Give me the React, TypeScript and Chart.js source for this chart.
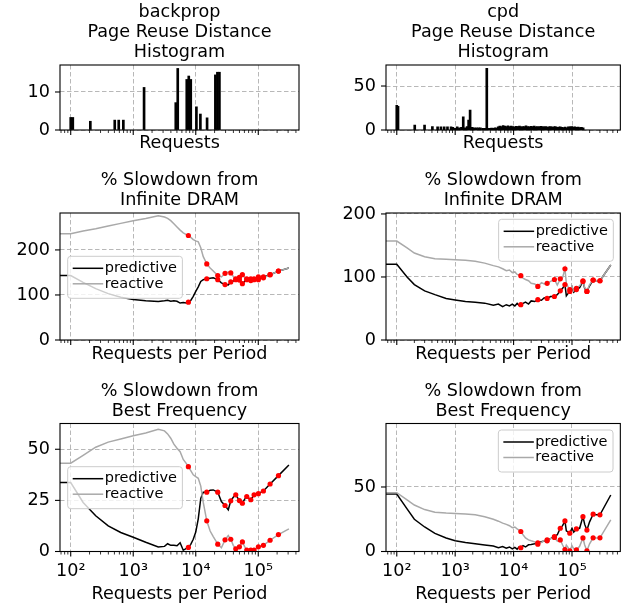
import React, { useEffect, useRef } from 'react';
import { Chart, registerables } from 'chart.js';
Chart.register(...registerables);

const FONT = '"DejaVu Sans", sans-serif';
const FS = 17.6;

// ---------------- data ----------------
const bpHistX = [100, 108, 206, 506, 586, 695, 1490, 4790, 5150, 7180, 7730, 8320, 10240, 11860, 15170, 20600, 22200, 23900];
const bpHistY = [3.3, 3.3, 2.3, 2.6, 2.6, 2.6, 11.2, 7.2, 16.2, 13.3, 14.2, 13.3, 6.1, 4.2, 3.2, 14.5, 15.2, 15.2];

const cpdHistX = [100, 105, 203, 299, 407, 500, 570, 648, 738, 850, 912, 1000, 1080, 1180, 1280, 1374, 1480, 1600, 1698, 1800, 1950, 2100, 2300, 2500, 2700, 2950, 3200, 3475,
  3700, 3950, 4200, 4500, 4800, 5100, 5450, 5800, 6200, 6600, 7050, 7500, 8000, 8550, 9100, 9700, 10400, 11100, 11800, 12600, 13400, 14300, 15300, 16300, 17400, 18500, 19800, 21100, 22500, 24000, 25600, 27300, 29100, 31000, 33100, 35300, 37600, 40100, 42800, 45600, 48600, 51900, 55300, 59000, 62900, 67100, 71500, 76300, 81300, 86700, 92500, 98600, 105000, 112000, 119500, 127500, 136000, 145000, 155000];
const cpdHistY = [28, 27, 5.7, 5.7, 3.8, 3.5, 3.5, 3.5, 3.5, 3.5, 3, 2, 3.5, 2.5, 3, 15.1, 2.5, 4, 11.4, 22.7, 3, 2.5, 2.5, 2.5, 2.5, 2, 2, 70.1,
  2, 1.8, 2.2, 2, 2.5, 2.2, 3.5, 4.5, 4, 5, 4.5, 4, 4.8, 3.8, 4.5, 4, 3.5, 4.2, 3.8, 4.5, 3.5, 4, 3.8, 4.6, 4, 3.5, 4.2, 3.8, 4.5, 3.6, 4, 3.5, 4.2, 3.8, 3.5, 4, 3.2, 3.6, 3.8, 3.2, 3.5, 3.8, 3, 3.4, 3.6, 3, 2.8, 3.2, 2.5, 3.5, 3.6, 3.8, 3.3, 3.5, 3, 3.4, 2.8, 3, 2.5];

const bpX = [40, 100, 158, 251, 398, 631, 1000, 1585, 2512, 3162, 3548, 3981, 4467, 5012, 5623, 6310, 7079, 7620, 8318, 9120, 10000, 10965, 12023, 13183, 15000, 16982, 19055, 22500, 25704, 29400, 33113, 36300, 39811, 43650, 49900, 55700, 60256, 65400, 75900, 85700, 100400, 120800, 154500, 210000, 309000];
const bpDramReactive = [236, 236, 242, 247, 253, 259, 265, 270, 276, 273, 270, 265, 258, 251, 244, 238, 234, 232, 228, 223, 220, 218, 205, 185, 169, 160, 153, 143, 140, 148, 151, 149, 141, 136, 139, 145, 140, 134, 132, 136, 140, 138, 145, 153, 160];
const bpDramPredictive = [143, 143, 128, 114, 103, 95, 90, 87, 85.5, 87, 88, 86, 87, 86, 82, 83, 82, 84, 88, 97, 108, 118, 130, 134, 136, 137, 138, 134, 127, 123, 122, 129, 131, 134, 133, 125, 130, 136, 136, 134, 134, 140, 145, 153, 160];
const bpFreqReactive = [43.2, 43.2, 47, 51, 53.5, 55, 56.6, 58, 59.8, 59, 57.5, 55.4, 52.5, 50.5, 48.8, 45, 43, 41.5, 39.5, 37.5, 36.6, 35.8, 32, 24, 15, 10, 7.3, 3.6, 1.8, 5.7, 7.8, 6, 3, 1.3, 2.3, 4.7, 2.5, 0.7, 0.7, 0.7, 2.3, 3, 5.5, 8.3, 11.1];
const bpFreqPredictive = [33.7, 33.7, 24, 17.5, 12.5, 9.3, 7, 4.5, 2.2, 2.5, 3.8, 3, 3, 2.8, 4.3, 0.6, 1.5, 2, 3.5, 6, 9.5, 16, 26, 29, 29, 30, 30.1, 29, 24.4, 22.5, 20.4, 24.8, 26.5, 27.7, 24.9, 23.6, 25.5, 26.9, 25.3, 27.7, 28.3, 29.6, 33, 37.1, 42.3];
const bpDotX = [7620, 15000, 22500, 29400, 36300, 43650, 49900, 55700, 65400, 75900, 85700, 100400, 120800, 154500, 210000];

const cpdX = [40, 100, 150, 200, 300, 450, 700, 1000, 1500, 2200, 3200, 4500, 5500, 6500, 7500, 8500, 9500, 10500, 11500, 12400, 13300, 14500, 16000, 18000, 20000, 23000, 26000, 30000, 33500, 37500, 43000, 50000, 56000, 63000, 69000, 75700, 80000, 86000, 91800, 100000, 107000, 119000, 135000, 154000, 165000, 180000, 200000, 230000, 265000, 301000, 461000];
const cpdDramReactive = [157, 157, 146, 138, 132, 129, 128, 127.5, 126.5, 125, 122, 118, 116, 113, 110, 111, 107, 108, 104, 103, 102, 98, 96, 94, 90, 89, 85, 91, 89, 90, 93, 96, 87, 97, 99, 113, 90, 84, 80, 85, 78, 82, 86, 94, 83, 77, 88, 95, 94, 94, 119];
const cpdDramPredictive = [120, 120, 100, 88, 78, 72, 66, 63.5, 61, 60, 58.5, 55, 57, 53, 56, 54, 57, 54, 58, 55, 56, 58, 60, 57, 62, 61, 64, 63, 67, 66, 69, 69, 72, 78, 82, 88, 70, 74, 77, 84, 76, 80, 83, 93, 82, 77, 86, 95, 94, 94, 119];
const cpdFreqPredictive = [44.6, 44.6, 33, 25, 19, 14, 10.5, 8.3, 7, 6, 5, 4.2, 3, 3.8, 2.5, 3.5, 2, 3.2, 1.8, 3.5, 2.9, 4.5, 3.5, 5.2, 5.5, 6, 6.7, 7.5, 8.2, 9, 10, 11.6, 13, 18, 20, 23.7, 16, 15, 14.2, 18, 15, 17.5, 18, 27, 21, 16.6, 23, 28.9, 28.5, 28.4, 43.8];
const cpdFreqReactive = [45.6, 45.6, 40, 36, 32.5, 30.5, 29.8, 29.5, 29, 28.4, 27, 25, 23.5, 22, 21, 20, 18.5, 19, 17.5, 16.5, 15.5, 13, 10.5, 9, 8.3, 7.5, 5.7, 7, 8.5, 8.3, 10, 10.9, 8, 9, 5, 1.5, 5, 3, 0.5, 4.4, 2, 1.2, 4, 10.5, 5, 0.5, 6, 10.6, 10.5, 10.6, 24.5];
const cpdDotX = [13300, 26000, 37500, 50000, 63000, 75700, 91800, 119000, 154000, 180000, 230000, 301000];

const xMajorTicks = [100, 1000, 10000, 100000];
const xTickLabels = ['10\u00b2', '10\u00b3', '10\u2074', '10\u2075'];
const seriesLabels = ['predictive', 'reactive'];

// ---------------- layout ----------------
const COLS = {
  L: { left: 0, width: 313, yWidth: 60, padRight: 14, xMin: 67.4, xMax: 448000 },
  R: { left: 320, width: 307, yWidth: 66, padRight: 2, xMin: 65.4, xMax: 672000 },
};
const ROWS = [
  { top: 0, height: 160, padTop: 65, xHeight: 30, xTitle: 'Requests', xTitlePad: 5.6, labels: false },
  { top: 160, height: 205, padTop: 53, xHeight: 25, xTitle: 'Requests per Period', xTitlePad: 0.3, labels: false },
  { top: 365, height: 240, padTop: 58.5, xHeight: 53.5, xTitle: 'Requests per Period', xTitlePad: 0.3, labels: true },
];

type Legend = { side: 'left' | 'right'; dx: number; dy: number };
type Panel = {
  col: 'L' | 'R'; row: number; title: string[]; yMax: number; yTicks: number[];
  hist?: { x: number[]; y: number[] };
  line?: { x: number[]; pred: number[]; react: number[]; dots: number[] };
  legend?: Legend;
};

const PANELS: Panel[] = [
  { col: 'L', row: 0, title: ['backprop', 'Page Reuse Distance', 'Histogram'], yMax: 17.1, yTicks: [0, 10], hist: { x: bpHistX, y: bpHistY } },
  { col: 'R', row: 0, title: ['cpd', 'Page Reuse Distance', 'Histogram'], yMax: 73.9, yTicks: [0, 50], hist: { x: cpdHistX, y: cpdHistY } },
  { col: 'L', row: 1, title: ['% Slowdown from', 'Infinite DRAM'], yMax: 282, yTicks: [0, 100, 200], line: { x: bpX, pred: bpDramPredictive, react: bpDramReactive, dots: bpDotX }, legend: { side: 'left', dx: 7.7, dy: 43.3 } },
  { col: 'R', row: 1, title: ['% Slowdown from', 'Infinite DRAM'], yMax: 201.5, yTicks: [0, 100, 200], line: { x: cpdX, pred: cpdDramPredictive, react: cpdDramReactive, dots: cpdDotX }, legend: { side: 'right', dx: 7, dy: 6.3 } },
  { col: 'L', row: 2, title: ['% Slowdown from', 'Best Frequency'], yMax: 62.6, yTicks: [0, 25, 50], line: { x: bpX, pred: bpFreqPredictive, react: bpFreqReactive, dots: bpDotX }, legend: { side: 'left', dx: 7.7, dy: 43.2 } },
  { col: 'R', row: 2, title: ['% Slowdown from', 'Best Frequency'], yMax: 99.2, yTicks: [0, 50], line: { x: cpdX, pred: cpdFreqPredictive, react: cpdFreqReactive, dots: cpdDotX }, legend: { side: 'right', dx: 7.3, dy: 6.5 } },
];

const GREY = '#a9a9a9';

function makeXTicks(min: number, max: number) {
  const out: { value: number; major: boolean }[] = [];
  for (let e = 1; e <= 6; e++) {
    for (let m = 1; m <= 9; m++) {
      const v = m * Math.pow(10, e);
      if (v >= min && v <= max) out.push({ value: v, major: m === 1 });
    }
  }
  return out;
}

function decoPlugin(p: Panel) {
  return {
    id: 'deco',
    afterDraw(chart: any) {
      const { ctx, chartArea } = chart;
      const { left, top, right, bottom } = chartArea;
      ctx.save();
      if (p.legend) {
        const { side, dx, dy } = p.legend;
        ctx.font = `14.5px ${FONT}`;
        const tw = Math.max(...seriesLabels.map((s) => ctx.measureText(s).width));
        const w = 5 + 30.5 + 1.5 + tw + 5.5;
        const h = 42;
        const bx = side === 'left' ? left + dx : right - dx - w;
        const by = top + dy;
        ctx.beginPath();
        ctx.roundRect(bx, by, w, h, 3);
        ctx.fillStyle = 'rgba(255,255,255,0.8)';
        ctx.fill();
        ctx.strokeStyle = '#cccccc';
        ctx.lineWidth = 1;
        ctx.stroke();
        const colors = ['#000', GREY];
        seriesLabels.forEach((s, i) => {
          const ly = by + 12 + i * 15.5;
          ctx.strokeStyle = colors[i];
          ctx.lineWidth = 1.5;
          ctx.beginPath();
          ctx.moveTo(bx + 5, ly);
          ctx.lineTo(bx + 35.5, ly);
          ctx.stroke();
          ctx.fillStyle = '#000';
          ctx.textAlign = 'left';
          ctx.textBaseline = 'middle';
          ctx.fillText(s, bx + 37, ly);
        });
      }
      ctx.strokeStyle = '#000';
      const xs = chart.scales.x;
      for (const t of xs.ticks) {
        const px = xs.getPixelForValue(t.value);
        if (px < left - 0.5 || px > right + 0.5) continue;
        ctx.lineWidth = t.major ? 1.1 : 0.8;
        ctx.beginPath();
        ctx.moveTo(px, bottom);
        ctx.lineTo(px, bottom + (t.major ? 5 : 3));
        ctx.stroke();
      }
      const ys = chart.scales.y;
      for (const t of ys.ticks) {
        const py = ys.getPixelForValue(t.value);
        ctx.lineWidth = 1.1;
        ctx.beginPath();
        ctx.moveTo(left - 5, py);
        ctx.lineTo(left, py);
        ctx.stroke();
      }
      ctx.lineWidth = 1.1;
      ctx.strokeRect(left, top, right - left, bottom - top);
      ctx.fillStyle = '#000';
      ctx.font = `${FS}px ${FONT}`;
      ctx.textAlign = 'center';
      ctx.textBaseline = 'alphabetic';
      const cx = (left + right) / 2;
      const n = p.title.length;
      p.title.forEach((line, i) => ctx.fillText(line, cx, top - 8 - (n - 1 - i) * 20));
      ctx.restore();
    },
  };
}

function buildConfig(p: Panel): any {
  const c = COLS[p.col];
  const r = ROWS[p.row];
  const font = { family: FONT, size: FS, lineHeight: 1.2 };
  let type = 'line';
  let datasets: any[] = [];
  if (p.hist) {
    type = 'bar';
    datasets = [{
      data: p.hist.x.map((x, i) => ({ x, y: p.hist!.y[i] })),
      backgroundColor: '#000', borderWidth: 0, barThickness: 2, grouped: false,
    }];
  } else if (p.line) {
    const L = p.line;
    const pts = (ys: number[]) => L.x.map((x, i) => ({ x, y: ys[i] }));
    const dotPts = (ys: number[]) => pts(ys).filter((pt) => L.dots.includes(pt.x));
    datasets = [
      { data: [...dotPts(L.pred), ...dotPts(L.react)], showLine: false, pointRadius: 2.6, pointBackgroundColor: 'red', pointBorderWidth: 0, order: 0 },
      { data: pts(L.react), borderColor: GREY, borderWidth: 1.5, pointRadius: 0, tension: 0, order: 1 },
      { data: pts(L.pred), borderColor: '#000', borderWidth: 1.5, pointRadius: 0, tension: 0, order: 2 },
    ];
  }
  return {
    type,
    data: { datasets },
    options: {
      animation: false,
      responsive: false,
      devicePixelRatio: 1,
      events: [],
      layout: { padding: { top: r.padTop, right: c.padRight, left: 0, bottom: 0 } },
      plugins: { legend: { display: false }, tooltip: { enabled: false }, title: { display: false } },
      scales: {
        x: {
          type: 'logarithmic', min: c.xMin, max: c.xMax, offset: false,
          afterBuildTicks: (s: any) => { s.ticks = makeXTicks(c.xMin, c.xMax); },
          afterFit: (s: any) => { s.height = r.xHeight; },
          grid: { drawTicks: false, offset: false, lineWidth: 0.9, color: (ctx: any) => (ctx.tick && ctx.tick.major ? '#b0b0b0' : 'rgba(0,0,0,0)') },
          border: { display: false, dash: [4.5, 2.5] },
          ticks: {
            autoSkip: false, maxRotation: 0, minRotation: 0, padding: 9.5, color: '#000', font,
            callback: (v: any) => {
              const i = xMajorTicks.indexOf(Number(v));
              return r.labels && i >= 0 ? xTickLabels[i] : '';
            },
          },
          title: { display: true, text: r.xTitle, color: '#000', font, padding: { top: 0, bottom: r.xTitlePad } },
        },
        y: {
          type: 'linear', min: 0, max: p.yMax,
          afterBuildTicks: (s: any) => { s.ticks = p.yTicks.map((v) => ({ value: v })); },
          afterFit: (s: any) => { s.width = c.yWidth; },
          grid: { drawTicks: false, lineWidth: 0.9, color: '#b0b0b0' },
          border: { display: false, dash: [4.5, 2.5] },
          ticks: { padding: 10, color: '#000', font, callback: (v: any) => String(v) },
        },
      },
    },
    plugins: [decoPlugin(p)],
  };
}

export default function App() {
  const refs = useRef<(HTMLCanvasElement | null)[]>([]);
  useEffect(() => {
    const charts = PANELS.map((p, i) => new Chart(refs.current[i] as HTMLCanvasElement, buildConfig(p)));
    return () => charts.forEach((ch) => ch.destroy());
  }, []);
  return (
    <div style={{ position: 'absolute', left: 0, top: 0, width: 627, height: 605, background: '#fff', overflow: 'hidden' }}>
      {PANELS.map((p, i) => {
        const c = COLS[p.col];
        const r = ROWS[p.row];
        return (
          <canvas
            key={i}
            ref={(el) => { refs.current[i] = el; }}
            width={c.width}
            height={r.height}
            style={{ position: 'absolute', left: c.left, top: r.top, width: c.width, height: r.height }}
          />
        );
      })}
    </div>
  );
}
